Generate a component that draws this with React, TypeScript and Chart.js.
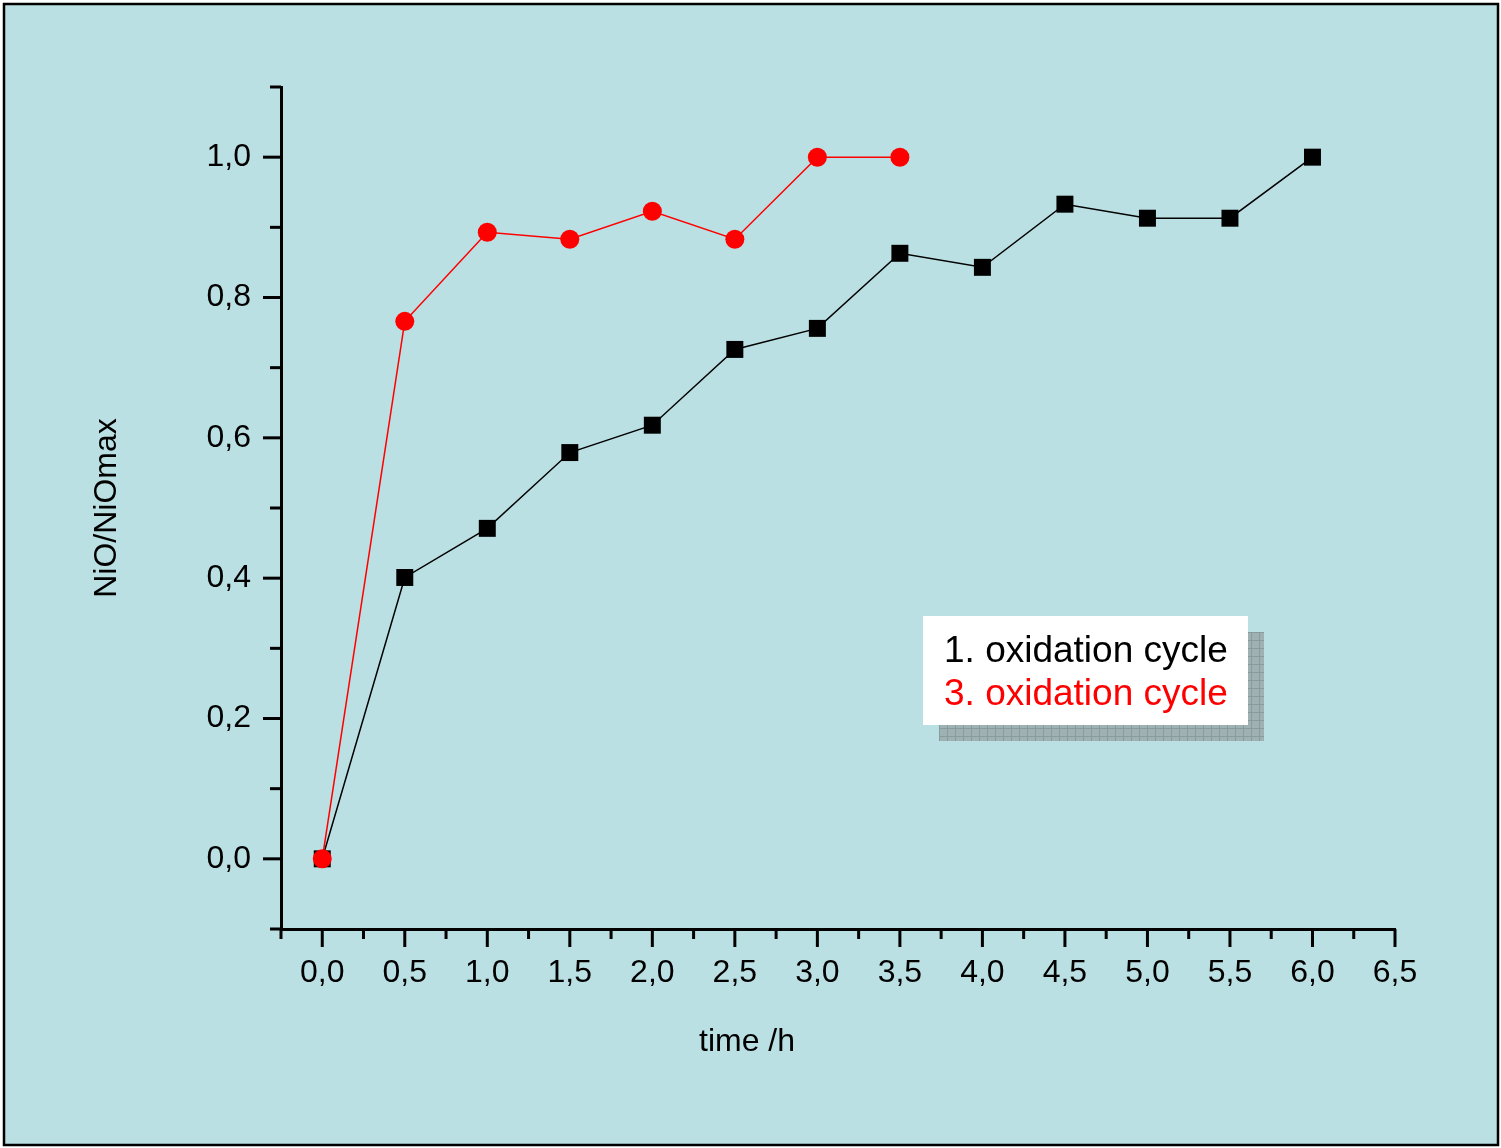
import React, { useEffect, useRef } from "react";
import { Chart, registerables } from "chart.js";

Chart.register(...registerables);

const timeHours = [0, 0.5, 1, 1.5, 2, 2.5, 3, 3.5, 4, 4.5, 5, 5.5, 6];
const cycle1Values = [0, 0.401, 0.471, 0.579, 0.618, 0.726, 0.756, 0.863, 0.843, 0.933, 0.913, 0.913, 1.0];
const cycle3Times = [0, 0.5, 1, 1.5, 2, 2.5, 3, 3.5];
const cycle3Values = [0, 0.766, 0.893, 0.883, 0.923, 0.883, 1.0, 1.0];
const legendLabels = ["1. oxidation cycle", "3. oxidation cycle"];
const xTitle = "time /h";
const yTitle = "NiO/NiOmax";

const FONT = "'Liberation Sans', Arial, sans-serif";
const BG = "#bae0e3";

const fmt = (v: number) => v.toFixed(1).replace(".", ",");

const framePlugin = {
  id: "frame",
  beforeDraw(chart: any) {
    const { ctx, width, height } = chart;
    ctx.save();
    ctx.fillStyle = "#ffffff";
    ctx.fillRect(0, 0, width, height);
    ctx.fillStyle = BG;
    ctx.fillRect(4, 4, width - 7, height - 7);
    ctx.lineWidth = 2.5;
    ctx.strokeStyle = "#000000";
    ctx.strokeRect(4, 4, width - 7, height - 7);
    ctx.restore();
  },
  afterDraw(chart: any) {
    const { ctx } = chart;
    const xs = chart.scales.x;
    const ys = chart.scales.y;
    ctx.save();
    ctx.strokeStyle = "#000";
    ctx.lineWidth = 3;
    ctx.lineCap = "butt";
    xs.ticks.forEach((t: any) => {
      const px = xs.getPixelForValue(t.value);
      const major = Math.abs(Math.round(t.value * 4)) % 2 === 0;
      const len = major ? 18 : 10;
      ctx.beginPath();
      ctx.moveTo(px, xs.top);
      ctx.lineTo(px, xs.top + len);
      ctx.stroke();
    });
    ys.ticks.forEach((t: any) => {
      const py = ys.getPixelForValue(t.value);
      const major = Math.abs(Math.round(t.value * 10)) % 2 === 0;
      const len = major ? 18 : 11;
      ctx.beginPath();
      ctx.moveTo(ys.right, py);
      ctx.lineTo(ys.right - len, py);
      ctx.stroke();
    });
    ctx.fillStyle = "#000";
    ctx.font = `32px ${FONT}`;
    ctx.textAlign = "center";
    ctx.textBaseline = "middle";
    ctx.fillText(xTitle, 747, 1042);

    const bx = 923, by = 616, bw = 325, bh = 109;
    ctx.fillStyle = "#9fb2b3";
    ctx.fillRect(bx + 16, by + 16, bw, bh);
    ctx.strokeStyle = "#8a9b9c";
    ctx.lineWidth = 1;
    for (let gx = bx + 16; gx <= bx + 16 + bw; gx += 8) {
      ctx.beginPath();
      ctx.moveTo(gx + 0.5, by + 16);
      ctx.lineTo(gx + 0.5, by + 16 + bh);
      ctx.stroke();
    }
    for (let gy = by + 16; gy <= by + 16 + bh; gy += 8) {
      ctx.beginPath();
      ctx.moveTo(bx + 16, gy + 0.5);
      ctx.lineTo(bx + 16 + bw, gy + 0.5);
      ctx.stroke();
    }
    ctx.fillStyle = "#ffffff";
    ctx.fillRect(bx, by, bw, bh);
    ctx.font = `37px ${FONT}`;
    ctx.textAlign = "left";
    ctx.textBaseline = "alphabetic";
    ctx.fillStyle = "#000000";
    ctx.fillText(legendLabels[0], 944, 662);
    ctx.fillStyle = "#ff0000";
    ctx.fillText(legendLabels[1], 944, 705);
    ctx.restore();
  },
};

export default function App() {
  const ref = useRef<HTMLCanvasElement>(null);
  useEffect(() => {
    if (!ref.current) return;
    const chart = new Chart(ref.current, {
      type: "line",
      data: {
        datasets: [
          {
            label: legendLabels[0],
            data: timeHours.map((x, i) => ({ x, y: cycle1Values[i] })),
            borderColor: "#000000",
            backgroundColor: "#000000",
            borderWidth: 1.5,
            pointStyle: "rect",
            pointRadius: 12,
            pointBorderWidth: 0,
            order: 1,
          },
          {
            label: legendLabels[1],
            data: cycle3Times.map((x, i) => ({ x, y: cycle3Values[i] })),
            borderColor: "#ff0000",
            backgroundColor: "#ff0000",
            borderWidth: 1.5,
            pointStyle: "circle",
            pointRadius: 9.5,
            pointBorderWidth: 0,
            order: 0,
          },
        ],
      },
      options: {
        responsive: false,
        animation: false,
        layout: { padding: { left: 0, top: 87, right: 106, bottom: 0 } },
        plugins: { legend: { display: false }, tooltip: { enabled: false } },
        scales: {
          x: {
            type: "linear",
            min: -0.25,
            max: 6.5,
            afterFit: (s: any) => {
              s.height = 219;
            },
            grid: { display: false, drawTicks: false },
            border: { display: true, color: "#000", width: 3 },
            ticks: {
              stepSize: 0.25,
              autoSkip: false,
              maxRotation: 0,
              padding: 25,
              color: "#000",
              font: { family: FONT, size: 32 },
              callback: (v: any) => {
                const n = Number(v);
                return Math.abs(Math.round(n * 4)) % 2 === 0 ? fmt(n) : "";
              },
            },
          },
          y: {
            type: "linear",
            min: -0.1,
            max: 1.1,
            afterFit: (s: any) => {
              s.width = 281;
            },
            grid: { display: false, drawTicks: false },
            border: { display: true, color: "#000", width: 3 },
            title: {
              display: true,
              text: yTitle,
              color: "#000",
              font: { family: FONT, size: 32 },
              padding: { top: 88, bottom: 0 },
            },
            ticks: {
              stepSize: 0.1,
              autoSkip: false,
              padding: 30,
              color: "#000",
              font: { family: FONT, size: 32 },
              callback: (v: any) => {
                const n = Number(v);
                return Math.abs(Math.round(n * 10)) % 2 === 0 ? fmt(n) : "";
              },
            },
          },
        },
      },
      plugins: [framePlugin],
    } as any);
    return () => chart.destroy();
  }, []);
  return (
    <div style={{ position: "absolute", left: 0, top: 0, width: 1501, height: 1148 }}>
      <canvas ref={ref} width={1501} height={1148} style={{ display: "block" }} />
    </div>
  );
}
